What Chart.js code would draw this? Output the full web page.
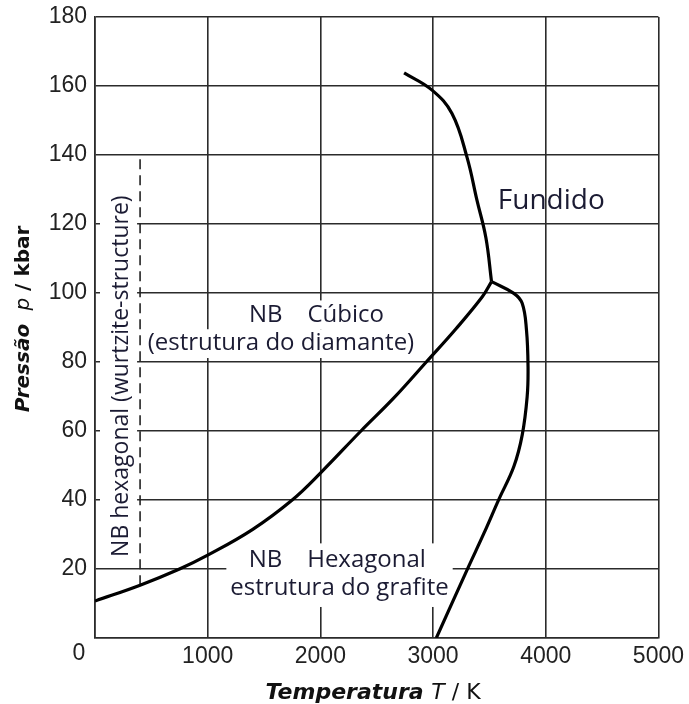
<!DOCTYPE html>
<html>
<head>
<meta charset="utf-8">
<script src="https://cdn.jsdelivr.net/npm/chart.js@4.4.1/dist/chart.umd.min.js"></script>
<style>
  html, body { margin: 0; padding: 0; background: #fff; }
  #wrap { width: 689px; height: 704px; }
</style>
</head>
<body>
<div id="wrap"><canvas id="myChart" width="689" height="704"></canvas></div>
<script>
// phase boundaries, temperature in K and pressure in kbar
const tempGraphiteDiamond = [0, 400, 750, 1000, 1400, 1750, 2000, 2360, 2650, 2940, 3200, 3437, 3519];
const presGraphiteDiamond = [10.7, 15.3, 20, 24, 31.5, 40, 47.8, 60, 69.5, 80, 89.5, 98.9, 103.3];

const tempDiamondMelt = [2743, 2991, 3168, 3301, 3389, 3469, 3519];
const presDiamondMelt = [163.8, 158.8, 152, 139.4, 127, 116, 103.3];

const tempGraphiteMelt = [3519, 3717, 3791, 3829, 3843, 3835, 3791, 3717, 3584, 3451, 3304, 3029];
const presGraphiteMelt = [103.3, 99.9, 97, 89.3, 78.6, 69.9, 58.8, 49.7, 40.2, 30.3, 19.9, 0];

const tempWurtzite = [400, 400];
const presWurtzite = [15.3, 139];

const xTicks = [0, 1000, 2000, 3000, 4000, 5000];
const yTicks = [0, 20, 40, 60, 80, 100, 120, 140, 160, 180];

function pts(xs, ys) {
  return xs.map((x, i) => ({x: x, y: ys[i]}));
}

const labelFont = '"Open Sans", Lato, sans-serif';
const labelColor = '#1b1b33';

// region labels (anchored in data coordinates, one x per line)
const regionLabels = [
  {lines: ['Fundido'], xs: [4049], y: 126.7, size: 28, box: false},
  {lines: ['NB    Cúbico', '(estrutura do diamante)'], xs: [1965, 1650], y: 89.5, size: 24, box: true},
  {lines: ['NB    Hexagonal', 'estrutura do grafite'], xs: [2150, 2170], y: 18.5, size: 24, box: true, union: true},
  {lines: ['NB hexagonal (wurtzite-structure)'], xs: [239], y: 75.9, size: 23, box: true, rotate: true}
];

const labelPlugin = {
  id: 'labels',
  beforeDatasetsDraw(chart) {
    const ctx = chart.ctx;
    const xs = chart.scales.x, ys = chart.scales.y;
    ctx.save();
    ctx.fillStyle = '#fff';
    regionLabels.forEach(l => {
      if (!l.box) return;
      const cy = ys.getPixelForValue(l.y);
      ctx.font = l.size + 'px ' + labelFont;
      const lh = l.size * 1.2;
      if (l.rotate) {
        const w = ctx.measureText(l.lines[0]).width;
        ctx.fillRect(chart.chartArea.left + 5, cy - w / 2 - 8, xs.getPixelForValue(400) - chart.chartArea.left - 8, w + 16);
        return;
      }
      const top = cy - lh * l.lines.length / 2;
      const spans = l.lines.map((s, i) => {
        const cx = xs.getPixelForValue(l.xs[i]);
        const w = ctx.measureText(s).width;
        return [cx - w / 2 - 4, cx + w / 2 + 4];
      });
      if (l.union) {
        const a = Math.min(...spans.map(s => s[0])), b = Math.max(...spans.map(s => s[1]));
        ctx.fillRect(a, top - 2, b - a, lh * l.lines.length + 6);
      } else {
        spans.forEach((s, i) => ctx.fillRect(s[0], top + i * lh, s[1] - s[0], lh));
      }
    });
    ctx.restore();
  },
  afterDatasetsDraw(chart) {
    const ctx = chart.ctx;
    const xs = chart.scales.x, ys = chart.scales.y;
    const area = chart.chartArea;
    ctx.save();
    ctx.fillStyle = labelColor;
    ctx.textAlign = 'center';
    ctx.textBaseline = 'middle';
    regionLabels.forEach(l => {
      const cy = ys.getPixelForValue(l.y);
      ctx.font = l.size + 'px ' + labelFont;
      const lh = l.size * 1.2;
      if (l.rotate) {
        ctx.save();
        ctx.translate(xs.getPixelForValue(l.xs[0]), cy);
        ctx.rotate(-Math.PI / 2);
        ctx.fillText(l.lines[0], 0, 0);
        ctx.restore();
        return;
      }
      const top = cy - lh * l.lines.length / 2;
      l.lines.forEach((s, i) => ctx.fillText(s, xs.getPixelForValue(l.xs[i]), top + lh * (i + 0.5)));
    });

    // shared origin label
    ctx.fillStyle = '#222';
    ctx.font = '23px "Liberation Sans", Arial, sans-serif';
    ctx.fillText('0', area.left - 16, area.bottom + 16);

    // axis titles with mixed styles
    const axisFont = '"DejaVu Sans", sans-serif';
    function mixed(parts, x, y, size) {
      let total = 0;
      parts.forEach(p => { ctx.font = p[1] + ' ' + size + 'px ' + axisFont; total += ctx.measureText(p[0]).width; });
      let pos = x - total / 2;
      ctx.textAlign = 'left';
      parts.forEach(p => {
        ctx.font = p[1] + ' ' + size + 'px ' + axisFont;
        ctx.fillText(p[0], pos, y);
        pos += ctx.measureText(p[0]).width;
      });
    }
    ctx.fillStyle = '#111';
    ctx.textBaseline = 'alphabetic';
    mixed([['Temperatura ', 'italic bold'], ['T', 'italic'], [' / K', 'normal']], 373, 699, 22);
    ctx.save();
    ctx.translate(29, 319);
    ctx.rotate(-Math.PI / 2);
    mixed([['Pressão ', 'italic bold'], [' p', 'italic'], [' / kbar', 'bold']], 0, 0, 20);
    ctx.restore();
    ctx.restore();
  }
};

const lineStyle = {
  showLine: true,
  pointRadius: 0,
  borderColor: '#000',
  borderWidth: 3.2,
  tension: 0.4,
  fill: false
};

const ctx = document.getElementById('myChart').getContext('2d');
const myChart = new Chart(ctx, {
  type: 'scatter',
  data: {
    datasets: [
      Object.assign({data: pts(tempGraphiteDiamond, presGraphiteDiamond)}, lineStyle),
      Object.assign({data: pts(tempDiamondMelt, presDiamondMelt)}, lineStyle),
      Object.assign({data: pts(tempGraphiteMelt, presGraphiteMelt)}, lineStyle),
      Object.assign({}, lineStyle, {
        data: pts(tempWurtzite, presWurtzite),
        borderWidth: 1.6,
        borderDash: [10, 6],
        borderColor: '#222',
        tension: 0
      })
    ]
  },
  plugins: [labelPlugin],
  options: {
    responsive: false,
    animation: false,
    events: [],
    layout: {padding: {top: 17, right: 23, left: 0, bottom: 0}},
    plugins: {
      legend: {display: false},
      tooltip: {enabled: false}
    },
    scales: {
      x: {
        type: 'linear',
        min: 0,
        max: 5000,
        afterBuildTicks(scale) { scale.ticks = xTicks.map(v => ({value: v})); },
        afterFit(scale) { scale.height = 66; },
        grid: {color: '#2b2b2b', lineWidth: 1.6, drawTicks: false},
        border: {color: '#2b2b2b', width: 1.6},
        ticks: {
          padding: 5,
          color: '#222',
          font: {family: '"Liberation Sans", Arial, sans-serif', size: 23},
          callback: v => (v === 0 ? '' : String(v))
        }
      },
      y: {
        type: 'linear',
        min: 0,
        max: 180,
        afterBuildTicks(scale) { scale.ticks = yTicks.map(v => ({value: v})); },
        afterFit(scale) { scale.width = 95; scale.paddingTop = 0; scale.paddingBottom = 0; },
        grid: {color: '#2b2b2b', lineWidth: 1.6, drawTicks: false},
        border: {color: '#2b2b2b', width: 1.6},
        ticks: {
          padding: 8,
          color: '#222',
          font: {family: '"Liberation Sans", Arial, sans-serif', size: 23},
          callback: v => (v === 0 ? '' : String(v))
        }
      }
    }
  }
});
</script>
</body>
</html>
